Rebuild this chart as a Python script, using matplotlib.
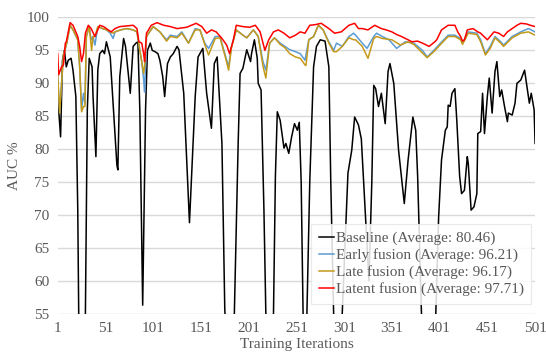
import matplotlib.pyplot as plt

# values (iteration, AUC %)
base_x = [1, 4, 6, 8, 10, 12, 15, 17, 20, 22, 23, 26, 30, 32, 34, 37, 38, 41, 43, 45, 48, 50, 52, 56, 59, 63, 64,
          66, 70, 72, 77, 80, 83, 85, 87, 90, 93, 95, 98, 100, 103, 106, 108, 111, 113, 116, 119, 122, 126, 128,
          133, 139, 145, 148, 153, 157, 162, 165, 168, 173, 176, 181, 186, 190, 192, 195, 199, 203, 204, 207,
          210, 211, 214, 217, 219, 223, 227, 229, 231, 234, 238, 240, 243, 246, 249, 252, 254, 256, 258, 260,
          262, 265, 269, 272, 276, 281, 285, 287, 290, 295, 299, 305, 309, 312, 316, 319, 323, 327, 330, 332,
          334, 337, 340, 344, 347, 349, 353, 358, 364, 368, 373, 376, 378, 382, 390, 397, 400, 403, 407, 409,
          410, 412, 414, 417, 419, 422, 424, 427, 430, 431, 434, 437, 440, 441, 444, 446, 448, 451, 453, 456,
          459, 461, 464, 466, 469, 472, 473, 477, 480, 482, 486, 490, 493, 495, 497, 500, 501]
base_y = [88, 81.8, 93.4, 94.9, 92.4, 93.4, 93.7, 91.9, 87.9, 70.7, 55, 42, 55, 85.9, 93.7, 92.4, 87.9, 78.8, 91.9,
          94.4, 94.9, 94.4, 96.2, 93.9, 86.9, 77.5, 76.8, 90.9, 96.7, 95.5, 88.4, 95.5, 96, 96.2, 85.9, 56.3,
          85.9, 94.9, 96, 94.9, 94.7, 94.4, 93.4, 90.9, 87.9, 92.9, 93.9, 94.4, 95.5, 95, 88.4, 68.8, 87.9,
          93.9, 95.2, 88.4, 83.1, 92.9, 93.9, 80.8, 55.6, 42, 55, 80.8, 91.4, 92.2, 95, 93.2, 94.4, 96.5, 93.7,
          89.9, 88.9, 70.7, 55, 42, 55, 75.8, 85.6, 84.3, 80.1, 80.8, 79.3, 81.8, 83.8, 82.8, 84, 75, 55, 48,
          55, 75, 92.4, 95.5, 96.5, 96.3, 92.4, 75, 55, 45, 55, 76.3, 79.8, 84.8, 83.6, 81.5, 70.7, 60, 75,
          89.6, 89.1, 86.4, 88.4, 83.8, 91.7, 92.9, 89.9, 79.8, 71.7, 78.3, 84.8, 82.8, 75.8, 55, 42, 55, 69.7,
          78.3, 82.8, 83.3, 86.6, 86.4, 88.4, 89.1, 84.3, 75.8, 73.2, 73.7, 78.8, 77.8, 70.7, 71.2, 73.2, 82.3,
          82.6, 88.4, 82.3, 87.9, 90.7, 85.4, 91.7, 93.2, 87.9, 88.9, 86.4, 84.1, 85.4, 85.1, 86.9, 89.9, 90.4,
          91.9, 88.9, 86.9, 88.4, 85.9, 80.8]

early_x = [1, 3, 7, 10, 14, 17, 22, 24, 26, 28, 29.5, 31, 34, 36, 38, 40, 43, 48, 52, 56, 59, 61, 67, 73, 80, 84,
           87, 89, 91, 92, 94, 101, 108, 115, 119, 126, 131, 138, 145, 150, 155, 159, 166, 171, 176, 180, 183,
           188, 195, 199, 206, 211, 216, 219, 223, 228, 234, 239, 244, 250, 255, 260, 264, 269, 274, 279, 285,
           290, 293, 299, 306, 311, 313, 320, 325, 332, 335, 341, 348, 356, 365, 374, 383, 388, 395, 402, 410,
           417, 423, 425, 431, 440, 444, 449, 454, 459, 465, 468, 477, 486, 494, 501]
early_y = [91, 85.5, 94.2, 95.7, 98.7, 98, 96.5, 92.4, 86, 88.4, 86.8, 97, 98.5, 96.5, 97, 95.7, 98.5, 98.2, 98,
           97.5, 96.7, 97.7, 98, 98.2, 98, 97.7, 94.9, 93.2, 90.5, 88.6, 97, 98.5, 97.7, 96.5, 97.2, 97, 97.7,
           96, 98.2, 98, 96, 95.2, 97, 97, 94.4, 92.4, 95.5, 98, 97.2, 96.8, 98, 97, 93.2, 91.9, 96, 96.8, 96,
           95.5, 95, 94.7, 94.4, 93.4, 96.5, 97, 98.7, 98, 96.2, 94.9, 96, 95.5, 97, 97.5, 97.2, 96, 95.2, 97,
           97.5, 97, 96.5, 95.2, 96.2, 96, 94.9, 93.9, 94.9, 96, 97.2, 97.2, 96.7, 96, 97.7, 97.5, 96.5, 94.4,
           95.5, 97, 96.2, 95.7, 97, 97.7, 98.2, 97.7]

late_x = [1, 3, 7, 10, 14, 17, 22, 24, 26, 28, 29.5, 31, 34, 36.5, 38, 40, 43, 48, 52, 56, 59, 61, 67, 73, 80, 84,
          87, 89, 91, 92, 94, 101, 108, 115, 119, 126, 131, 138, 145, 150, 155, 159, 166, 171, 176, 180, 183,
          188, 195, 199, 206, 211, 216, 219, 223, 228, 234, 239, 244, 250, 255, 260, 261, 264, 269, 274, 279,
          285, 290, 293, 299, 306, 311, 313, 320, 326, 332, 335, 341, 351, 360, 368, 374, 383, 388, 395, 402,
          410, 417, 423, 425, 431, 440, 444, 449, 454, 459, 465, 468, 477, 486, 494, 501]
late_y = [91.2, 85.4, 94.2, 95.7, 98.7, 98, 96.5, 92.4, 85.6, 86.4, 86.4, 97, 98.5, 94.9, 97, 97, 98.5, 98.2, 98,
          97.7, 97.5, 97.7, 98, 98.2, 98, 97.7, 94.9, 93.2, 91.4, 92.5, 97, 98.5, 97.7, 96.3, 97, 96.8, 97.5,
          96, 98, 98, 95.8, 94.2, 96.7, 96.8, 94.2, 91.9, 95.3, 98, 97.2, 96.8, 98, 97, 92.5, 90.7, 96, 96.8,
          95.8, 95.3, 94.4, 93.9, 93.7, 92.7, 92.6, 96.5, 97, 98.7, 98, 96, 94.7, 94.7, 95.5, 96.8, 96.5, 96.5,
          95.5, 93.7, 96.7, 97, 96.7, 96.5, 95.7, 96.2, 95.8, 94.5, 93.8, 94.7, 95.8, 97, 97, 96.5, 95.8, 97.5,
          97.3, 96.2, 94.2, 95.2, 96.8, 96, 95.5, 96.8, 97.5, 97.7, 97.2]

latent_x = [1, 2, 5, 7, 9, 10, 14, 17, 22, 24, 26, 28, 30, 33, 36, 40, 42, 45, 49, 52, 57, 61, 66, 73, 80, 84, 86,
            89, 91, 92, 94, 99, 105, 112, 119, 126, 136, 146, 152, 157, 162, 167, 173, 178, 181, 185, 188, 195,
            202, 208, 213, 218, 222, 227, 232, 238, 244, 250, 255, 260, 265, 271, 277, 285, 291, 298, 306, 312,
            316, 320, 326, 333, 340, 345, 351, 356, 361, 368, 372, 378, 383, 390, 396, 398, 403, 410, 417, 420,
            423, 425, 427, 430, 436, 441, 444, 451, 458, 463, 468, 472, 477, 482, 486, 492, 496, 501]
latent_y = [94.4, 91.2, 92.4, 92.7, 96, 96.2, 99.1, 98.7, 97, 95.5, 93.2, 94.4, 97.5, 98.7, 98.2, 97, 97.7, 98.7,
            98.5, 98.2, 97.7, 98.2, 98.5, 98.6, 98.7, 98.2, 96.2, 96, 94.4, 93.2, 97.5, 98.7, 99.1, 98.7, 98.5,
            98.2, 98.4, 99, 98.5, 97.5, 98, 97.7, 96.7, 95.7, 94.4, 96.5, 98.7, 98.5, 98.4, 98.7, 97.7, 94.9,
            96.5, 97.7, 98, 97.5, 96.8, 97.2, 97.7, 97.5, 98.7, 98.8, 99, 98.2, 97.5, 97.7, 98.7, 99, 98.2, 98.2,
            98, 98.7, 98.2, 98, 97.7, 97.3, 97, 96.5, 96.2, 96.3, 96, 95.5, 96.2, 96.5, 98, 98.7, 98.7, 97.7, 97,
            96.3, 96.5, 98, 98.2, 97.7, 97.5, 96.5, 97.7, 97.5, 97, 97.7, 98.2, 98.7, 99, 98.9, 98.7, 98.5]

labels = ['Baseline (Average: 80.46)', 'Early fusion (Average: 96.21)',
          'Late fusion (Average: 96.17)', 'Latent fusion (Average: 97.71)']
colors = ['#000000', '#5B9BD5', '#C49A1A', '#FF0000']
x_ticks = list(range(1, 502, 50))

plt.rcParams['font.family'] = ['Liberation Serif', 'DejaVu Serif']
grey = '#595959'

fig = plt.figure(figsize=(5.46, 3.59), dpi=100)
ax = fig.add_axes([0.1057, 0.126, 0.8743, 0.8275])

series = [(base_x, base_y), (early_x, early_y), (late_x, late_y), (latent_x, latent_y)]
for (xs, ys), c, lab in zip(series, colors, labels):
    ax.plot(xs, ys, color=c, lw=1.1, label=lab)

ax.set_xlim(1, 501)
ax.set_ylim(55, 100)
ax.set_xticks(x_ticks)
ax.set_yticks(range(55, 101, 5))
ax.grid(axis='y', color='#D9D9D9', lw=1)
ax.set_axisbelow(True)
for s in ax.spines.values():
    s.set_visible(False)
ax.tick_params(length=0, labelsize=11, labelcolor=grey, pad=6)
ax.set_xlabel('Training Iterations', fontsize=11, color=grey, labelpad=2)
ax.set_ylabel('AUC %', fontsize=11, color=grey, labelpad=4)

leg = ax.legend(loc='lower right', bbox_to_anchor=(0.992, 0.033), borderaxespad=0, fontsize=11,
                handlelength=1.0, handletextpad=0.1, labelspacing=0.2, borderpad=0.5,
                fancybox=False, framealpha=0.85, edgecolor='#E6E6E6', labelcolor=grey)
leg.get_frame().set_linewidth(0.8)

fig.savefig('out.png', dpi=100)
